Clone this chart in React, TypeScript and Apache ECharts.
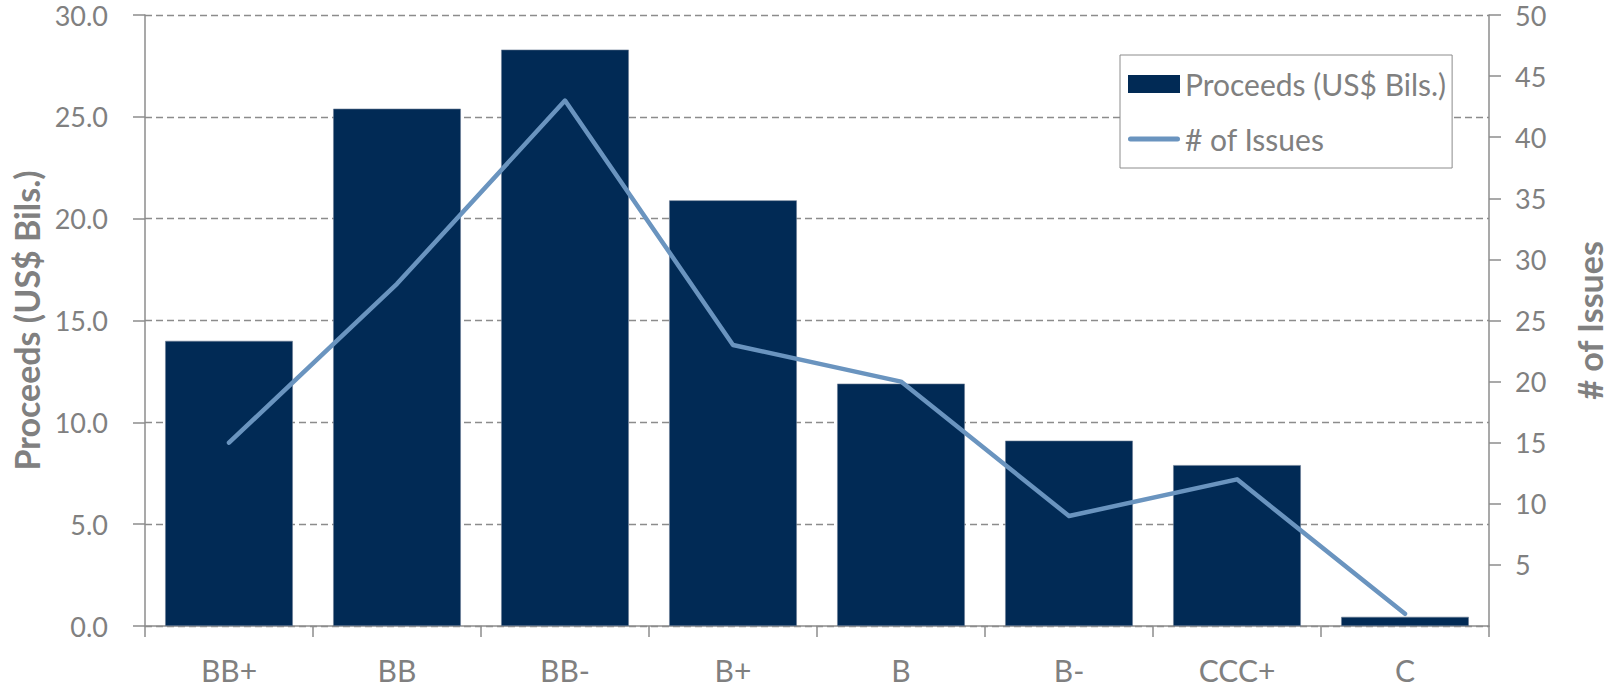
import React, { useEffect, useRef } from "react";
import * as echarts from "echarts";

const categories = ["BB+", "BB", "BB-", "B+", "B", "B-", "CCC+", "C"];
const proceeds = [14.0, 25.4, 28.3, 20.9, 11.9, 9.1, 7.9, 0.45];
const issues = [15, 28, 43, 23, 20, 9, 12, 1];

const GRAY = "#808080";
const AXIS = "#8c8c8c";
const FONT = "Lato";
const LINE_COLOR = "#6a94bf";
const BAR_COLOR = "#012a55";

export default function App() {
  const ref = useRef<HTMLDivElement>(null);
  useEffect(() => {
    if (!ref.current) return;
    const chart = echarts.init(ref.current, null, { renderer: "svg" });
    chart.setOption({
      animation: false,
      backgroundColor: "#ffffff",
      textStyle: { fontFamily: FONT },
      grid: { left: 145, right: 127, top: 15, bottom: 62, containLabel: false },
      legend: {
        orient: "vertical",
        left: 1120,
        top: 55,
        backgroundColor: "#ffffff",
        borderColor: AXIS,
        borderWidth: 1,
        padding: [14, 6, 14, 8],
        itemGap: 25,
        itemWidth: 52,
        itemHeight: 18,
        itemTextGap: 6,
        textStyle: { color: GRAY, fontSize: 30, lineHeight: 30, fontFamily: FONT },
        data: [
          {
            name: "Proceeds (US$ Bils.)",
            icon: "rect",
            itemStyle: { color: BAR_COLOR, borderWidth: 0 },
          },
          {
            name: "# of Issues",
            icon: "path://M2.5,0 L49.5,0 A2.5,2.5 0 0 1 49.5,5 L2.5,5 A2.5,2.5 0 0 1 2.5,0 Z",
            itemStyle: { color: LINE_COLOR, borderWidth: 0 },
          },
        ],
      },
      xAxis: {
        type: "category",
        data: categories,
        axisLine: { show: true, lineStyle: { color: AXIS, width: 1.5 } },
        axisTick: { show: true, length: 11, lineStyle: { color: AXIS, width: 1.5 } },
        axisLabel: { color: GRAY, fontSize: 30, lineHeight: 28, margin: 30, fontFamily: FONT },
      },
      yAxis: [
        {
          type: "value",
          min: 0,
          max: 30,
          interval: 5,
          name: "Proceeds (US$ Bils.)",
          nameLocation: "middle",
          nameGap: 100,
          nameTextStyle: { color: GRAY, fontSize: 34, fontWeight: "bold", fontFamily: FONT },
          axisLine: { show: true, lineStyle: { color: AXIS, width: 1.5 } },
          axisTick: { show: true, length: 12, lineStyle: { color: AXIS, width: 1.5 } },
          axisLabel: {
            color: GRAY,
            fontSize: 27,
            lineHeight: 27,
            margin: 37,
            fontFamily: FONT,
            formatter: (v: number) => v.toFixed(1),
          },
          splitLine: {
            show: true,
            lineStyle: { color: AXIS, width: 1.3, type: [7, 4] },
          },
        },
        {
          type: "value",
          min: 0,
          max: 50,
          interval: 5,
          name: "# of Issues",
          nameLocation: "middle",
          nameGap: 83,
          nameTextStyle: { color: GRAY, fontSize: 34, fontWeight: "bold", fontFamily: FONT },
          axisLine: { show: true, lineStyle: { color: AXIS, width: 1.5 } },
          axisTick: { show: true, length: 12, lineStyle: { color: AXIS, width: 1.5 } },
          axisLabel: {
            color: GRAY,
            fontSize: 27,
            lineHeight: 27,
            margin: 26,
            fontFamily: FONT,
            showMinLabel: false,
            formatter: (v: number) => (v === 0 ? "" : String(v)),
          },
          splitLine: { show: false },
        },
      ],
      series: [
        {
          name: "Proceeds (US$ Bils.)",
          type: "bar",
          data: proceeds,
          barCategoryGap: "24%",
          itemStyle: { color: BAR_COLOR, borderColor: "#6b7d95", borderWidth: 0.6 },
        },
        {
          name: "# of Issues",
          type: "line",
          yAxisIndex: 1,
          data: issues,
          symbol: "none",
          showSymbol: false,
          lineStyle: { color: LINE_COLOR, width: 4.5, cap: "round", join: "round" },
          itemStyle: { color: LINE_COLOR },
        },
      ],
    });
    return () => chart.dispose();
  }, []);
  return (
    <div
      ref={ref}
      style={{ position: "fixed", left: 0, top: 0, width: 1616, height: 688 }}
    />
  );
}
